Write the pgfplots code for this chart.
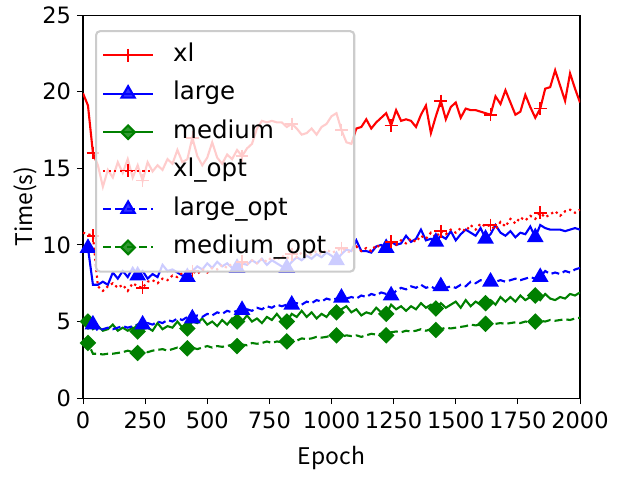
\documentclass[border=0pt]{standalone}
\usepackage{fontspec}
\setmainfont{DejaVu Sans}
\newfontfamily\jp{Noto Sans CJK JP}
\usepackage{pgfplots}
\pgfplotsset{compat=1.18}
\usepackage{pgfplotstable}
\definecolor{mred}{RGB}{255,0,0}
\definecolor{mblue}{RGB}{0,0,255}
\definecolor{mgreen}{RGB}{0,128,0}

\pgfplotstableread{
ep xl large medium xlopt largeopt mediumopt
0 19.9 9.8 4.9 10.8 4.9 3.6
20 19.1 9.8 5.0 10.7 4.6 3.6
40 16.0 7.4 4.5 10.6 4.8 2.9
60 15.2 7.4 4.7 7.3 4.4 2.9
80 13.8 7.6 4.4 7.0 4.5 2.85
100 14.9 7.4 4.5 7.3 4.6 2.9
120 14.4 8.2 4.8 7.5 4.5 2.9
140 15.4 7.8 4.4 7.2 4.6 2.95
160 14.7 8.3 4.6 7.4 4.7 3.0
180 15.6 7.9 4.4 7.0 4.6 3.1
200 14.4 8.5 4.6 7.5 4.7 3.0
220 15.2 8.0 4.35 7.3 4.8 2.95
240 14.2 8.3 4.5 7.2 4.8 3.1
260 15.4 7.8 4.6 7.6 4.9 3.0
280 14.8 8.1 4.4 7.7 4.8 3.1
300 15.2 7.9 4.9 7.5 5.0 3.15
320 14.9 8.7 4.5 7.8 4.9 3.2
340 15.6 8.3 4.7 7.7 5.1 3.1
360 15.3 8.4 4.6 8.0 5.0 3.2
380 16.2 8.2 5.0 7.9 5.2 3.3
400 15.4 8.0 4.6 8.2 5.1 3.2
420 15.6 7.9 4.55 8.0 5.3 3.25
440 17.0 8.3 5.0 8.3 5.2 3.3
460 15.8 8.6 4.9 8.1 5.4 3.2
480 15.2 8.4 5.2 8.4 5.3 3.3
500 15.7 8.8 4.8 8.2 5.5 3.4
520 16.7 8.5 5.0 8.5 5.4 3.3
540 15.7 8.9 4.7 8.4 5.6 3.4
560 15.3 8.6 5.1 8.7 5.5 3.35
580 15.9 8.8 4.8 8.5 5.7 3.4
600 15.6 8.5 5.2 8.8 5.6 3.5
620 16.2 8.5 5.0 8.6 5.7 3.4
640 15.8 8.8 5.0 8.9 5.75 3.5
660 16.3 8.7 5.4 8.7 5.8 3.45
680 16.6 9.0 5.0 9.0 5.7 3.6
700 17.6 8.8 5.2 8.8 5.9 3.55
720 18.1 9.1 4.9 9.1 5.8 3.6
740 18.0 8.7 5.3 8.9 6.0 3.7
760 18.1 9.0 5.1 9.2 5.9 3.6
780 18.0 8.8 5.5 9.0 6.1 3.7
800 18.0 8.6 5.1 9.3 6.0 3.65
820 17.7 8.5 5.0 9.1 6.1 3.7
840 17.9 8.9 5.5 9.4 6.1 3.8
860 17.6 9.2 5.3 9.2 6.2 3.75
880 17.2 9.0 5.7 9.5 6.1 3.9
900 17.3 9.3 5.3 9.3 6.3 3.85
920 17.6 9.1 5.6 9.4 6.2 3.9
940 17.2 9.4 5.2 9.6 6.4 4.0
960 17.7 9.2 5.5 9.4 6.3 3.95
980 17.9 9.5 5.3 9.7 6.5 4.0
1000 18.4 9.3 5.7 9.5 6.4 4.1
1020 18.6 9.0 5.6 9.6 6.5 4.1
1040 17.5 9.4 5.8 9.8 6.55 4.0
1060 16.7 9.7 6.0 9.6 6.5 4.1
1080 16.6 9.6 5.6 9.5 6.6 4.05
1100 17.6 10.3 5.8 9.9 6.5 4.1
1120 17.7 9.6 5.4 9.6 6.7 4.0
1140 18.2 9.6 5.6 9.8 6.6 4.1
1160 17.6 9.5 5.5 9.6 6.8 4.2
1180 18.0 9.9 5.9 10.0 6.7 4.15
1200 18.3 10.0 5.6 9.8 6.9 4.2
1220 18.6 9.8 5.5 10.1 6.8 4.1
1240 17.8 10.2 6.1 10.2 6.7 4.3
1260 18.8 10.0 5.8 10.0 7.0 4.35
1280 18.1 10.1 6.0 10.3 7.2 4.3
1300 18.2 10.6 5.7 10.1 7.1 4.4
1320 18.1 10.2 6.0 10.4 7.3 4.35
1340 17.7 10.4 5.8 10.2 7.2 4.4
1360 18.5 11.0 6.2 10.6 7.4 4.5
1380 19.1 10.3 5.9 10.4 7.2 4.4
1400 17.3 10.4 6.1 10.8 7.3 4.5
1420 18.4 10.2 5.85 10.5 7.1 4.45
1440 19.4 10.6 6.2 10.9 7.3 4.5
1460 18.2 10.4 5.9 10.7 7.2 4.6
1480 19.0 10.9 6.1 11.0 7.3 4.55
1500 19.3 10.3 6.3 10.8 7.2 4.6
1520 18.3 10.7 5.9 11.1 7.4 4.65
1540 18.9 11.0 6.4 10.9 7.3 4.7
1560 18.8 10.8 6.0 11.3 7.6 4.8
1580 18.8 10.6 6.3 11.0 7.5 4.75
1600 18.7 11.1 6.1 11.4 7.7 4.8
1620 18.6 10.4 6.2 11.2 7.6 4.85
1640 18.5 10.7 6.4 11.3 7.6 4.8
1660 19.7 11.3 6.1 11.0 7.6 4.85
1680 19.2 10.8 6.6 11.5 7.7 4.9
1700 20.1 10.6 6.3 11.2 7.6 4.85
1720 19.3 10.9 6.6 11.7 7.7 4.9
1740 18.5 10.5 6.3 11.4 7.8 4.95
1760 18.7 10.8 6.7 11.8 7.7 4.9
1780 19.8 10.7 6.4 11.6 7.8 5.0
1800 19.0 11.2 6.6 11.9 7.9 4.95
1820 18.3 10.5 6.7 11.7 7.8 5.0
1840 18.9 11.3 6.4 12.1 7.9 5.05
1860 20.2 11.1 6.8 11.8 8.3 5.0
1880 20.3 11.0 6.5 12.0 8.1 5.1
1900 21.4 11.0 6.4 12.2 8.2 5.05
1920 20.4 11.0 6.6 11.9 8.1 5.1
1940 19.4 10.9 6.5 12.2 8.3 5.15
1960 21.2 11.0 6.8 12.3 8.2 5.1
1980 20.2 11.1 6.7 12.1 8.4 5.2
2000 19.3 11.0 6.9 12.3 8.5 5.25
}\data

\begin{document}
\begin{tikzpicture}
\begin{axis}[
  at={(0,0)}, anchor=south west,
  width=248.5bp, height=191.5bp, scale only axis,
  xmin=0, xmax=2000, ymin=0, ymax=25,
  xtick={0,250,...,2000}, ytick={0,5,...,25},
  tick align=outside, tick pos=left, major tick length=3bp,
  every tick/.style={black, line width=0.5bp},
  axis line style={black, line width=0.6bp},
  /pgf/number format/assume math mode=true,
  /pgf/number format/1000 sep={},
  ticklabel style={font=\fontsize{11.3}{11.3}\selectfont},
  yticklabel style={inner xsep=2.5bp},
  xlabel={Epoch}, ylabel={Time(s)},
  xlabel style={font=\jp\fontsize{11.5}{11.5}\selectfont, at={(axis description cs:0.5,-0.1723)}, anchor=base},
  ylabel style={font=\jp\fontsize{11.5}{11.5}\selectfont, at={(axis description cs:-0.1006,0.5)}, anchor=base},
  legend cell align=left,
  legend image code/.code={\draw[mark repeat=2,mark phase=2] plot coordinates {(0bp,0bp)(12.5bp,0bp)(25bp,0bp)};},
  legend style={at={(axis description cs:0,1)}, anchor=north west, xshift=6bp, yshift=-7.5bp,
    draw=black!20, rounded corners=2bp, fill=white, fill opacity=0.8, text opacity=1,
    font=\fontsize{12.3}{12.5}\selectfont, inner xsep=3bp, inner ysep=2.5bp, row sep=0pt,
    nodes={inner xsep=2bp, inner ysep=4bp, text height=8.7bp, text depth=2.5bp},
    /tikz/every odd column/.style={column sep=7.5bp}},
  line width=1.05bp,
]
\addplot[mred, solid, mark=+, mark size=3.2bp, mark repeat=10, mark phase=3, mark options={solid, line width=0.8bp}] table[x=ep, y=xl] {\data};
\addlegendentry{xl}
\addplot[mblue, solid, mark=triangle*, mark size=3.8bp, mark repeat=10, mark phase=2, mark options={solid}] table[x=ep, y=large] {\data};
\addlegendentry{large}
\addplot[mgreen, solid, mark=square*, mark size=2.4bp, mark repeat=10, mark phase=2, mark options={solid, rotate=45}] table[x=ep, y=medium] {\data};
\addlegendentry{medium}
\addplot[mred, dash pattern=on 1.1bp off 1.7bp, mark=+, mark size=3.2bp, mark repeat=10, mark phase=3, mark options={solid, line width=0.8bp}] table[x=ep, y=xlopt] {\data};
\addlegendentry{xl\_opt}
\addplot[mblue, dash pattern=on 4bp off 2bp, mark=triangle*, mark size=3.8bp, mark repeat=10, mark phase=3, mark options={solid}] table[x=ep, y=largeopt] {\data};
\addlegendentry{large\_opt}
\addplot[mgreen, dash pattern=on 4bp off 2bp, mark=square*, mark size=2.4bp, mark repeat=10, mark phase=2, mark options={solid, rotate=45}] table[x=ep, y=mediumopt] {\data};
\addlegendentry{medium\_opt\rule{9bp}{0pt}}
\end{axis}
\path (-41.5bp,-36bp) rectangle (278bp,199bp);
\end{tikzpicture}
\end{document}
